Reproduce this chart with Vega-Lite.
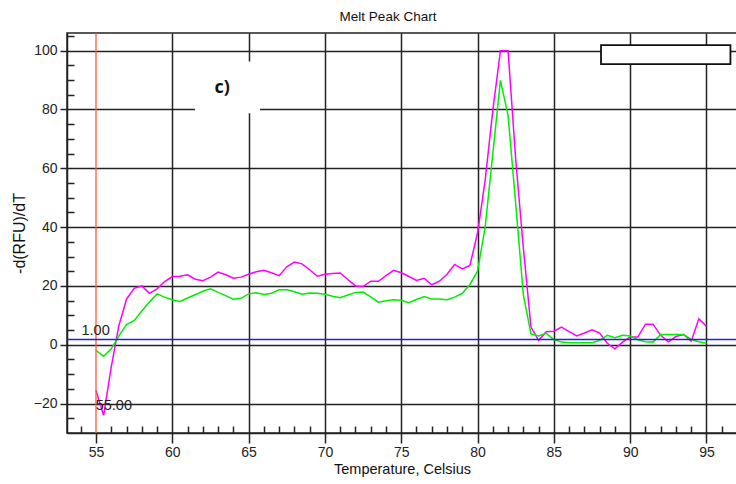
{
  "$schema": "https://vega.github.io/schema/vega-lite/v6.json",
  "width": 670,
  "height": 400,
  "autosize": {"type": "none"},
  "padding": {"left": 67, "top": 33, "right": 0, "bottom": 51},
  "background": "white",
  "title": {"text": "Melt Peak Chart", "font": "Liberation Sans", "fontSize": 13.5, "fontWeight": "normal", "color": "#111", "dx": -14, "offset": -5, "baseline": "bottom"},
  "config": {
    "view": {"stroke": "#222", "strokeWidth": 1.5},
    "axis": {"labelFont": "Liberation Sans", "labelFontSize": 14, "labelColor": "#222", "titleFont": "Liberation Sans", "titleFontSize": 14.5, "titleFontWeight": "normal", "titleColor": "#111", "domainColor": "#222", "domainWidth": 1.5, "tickColor": "#222", "tickWidth": 1.5, "gridColor": "#222", "gridWidth": 1.5, "gridOpacity": 1}
  },
  "datasets": {
    "melt": [
      {"T":55.0,"v":-15.5,"s":"A"},{"T":55.5,"v":-24,"s":"A"},{"T":56.0,"v":-7.5,"s":"A"},{"T":56.5,"v":6.5,"s":"A"},{"T":57.0,"v":15.5,"s":"A"},{"T":57.5,"v":19.2,"s":"A"},{"T":58.0,"v":20,"s":"A"},{"T":58.5,"v":17.5,"s":"A"},{"T":59.0,"v":19,"s":"A"},{"T":59.5,"v":21.5,"s":"A"},{"T":60.0,"v":23.2,"s":"A"},{"T":60.5,"v":23.3,"s":"A"},{"T":61.0,"v":23.8,"s":"A"},{"T":61.5,"v":22.3,"s":"A"},{"T":62.0,"v":21.8,"s":"A"},{"T":62.5,"v":23,"s":"A"},{"T":63.0,"v":24.7,"s":"A"},{"T":63.5,"v":23.8,"s":"A"},{"T":64.0,"v":22.6,"s":"A"},{"T":64.5,"v":23,"s":"A"},{"T":65.0,"v":24,"s":"A"},{"T":65.5,"v":24.8,"s":"A"},{"T":66.0,"v":25.3,"s":"A"},{"T":66.5,"v":24.5,"s":"A"},{"T":67.0,"v":23.5,"s":"A"},{"T":67.5,"v":26.5,"s":"A"},{"T":68.0,"v":28.1,"s":"A"},{"T":68.5,"v":27.5,"s":"A"},{"T":69.0,"v":25.5,"s":"A"},{"T":69.5,"v":23.3,"s":"A"},{"T":70.0,"v":24,"s":"A"},{"T":70.5,"v":24.2,"s":"A"},{"T":71.0,"v":24.4,"s":"A"},{"T":71.5,"v":22.2,"s":"A"},{"T":72.0,"v":20,"s":"A"},{"T":72.5,"v":19.8,"s":"A"},{"T":73.0,"v":21.6,"s":"A"},{"T":73.5,"v":21.6,"s":"A"},{"T":74.0,"v":23.5,"s":"A"},{"T":74.5,"v":25.3,"s":"A"},{"T":75.0,"v":24.5,"s":"A"},{"T":75.5,"v":23.2,"s":"A"},{"T":76.0,"v":21.9,"s":"A"},{"T":76.5,"v":22.6,"s":"A"},{"T":77.0,"v":20.4,"s":"A"},{"T":77.5,"v":21.6,"s":"A"},{"T":78.0,"v":24,"s":"A"},{"T":78.5,"v":27.3,"s":"A"},{"T":79.0,"v":25.8,"s":"A"},{"T":79.5,"v":27,"s":"A"},{"T":80.0,"v":38,"s":"A"},{"T":80.5,"v":56,"s":"A"},{"T":81.0,"v":79.7,"s":"A"},{"T":81.5,"v":100,"s":"A"},{"T":82.0,"v":100,"s":"A"},{"T":82.5,"v":63,"s":"A"},{"T":83.0,"v":33,"s":"A"},{"T":83.5,"v":6,"s":"A"},{"T":84.0,"v":1.5,"s":"A"},{"T":84.5,"v":4.4,"s":"A"},{"T":85.0,"v":4.6,"s":"A"},{"T":85.5,"v":6,"s":"A"},{"T":86.0,"v":4.5,"s":"A"},{"T":86.5,"v":3,"s":"A"},{"T":87.0,"v":4,"s":"A"},{"T":87.5,"v":5.1,"s":"A"},{"T":88.0,"v":4,"s":"A"},{"T":88.5,"v":0.5,"s":"A"},{"T":89.0,"v":-1.4,"s":"A"},{"T":89.5,"v":0.9,"s":"A"},{"T":90.0,"v":2.6,"s":"A"},{"T":90.5,"v":2.6,"s":"A"},{"T":91.0,"v":7,"s":"A"},{"T":91.5,"v":7,"s":"A"},{"T":92.0,"v":3.2,"s":"A"},{"T":92.5,"v":1,"s":"A"},{"T":93.0,"v":2.8,"s":"A"},{"T":93.5,"v":3.5,"s":"A"},{"T":94.0,"v":1.2,"s":"A"},{"T":94.5,"v":8.8,"s":"A"},{"T":95.0,"v":6.3,"s":"A"},
      {"T":55.0,"v":-1.9,"s":"B"},{"T":55.5,"v":-3.9,"s":"B"},{"T":56.0,"v":-1.4,"s":"B"},{"T":56.5,"v":3,"s":"B"},{"T":57.0,"v":6.9,"s":"B"},{"T":57.5,"v":8.2,"s":"B"},{"T":58.0,"v":11.5,"s":"B"},{"T":58.5,"v":14.5,"s":"B"},{"T":59.0,"v":17.3,"s":"B"},{"T":59.5,"v":16.2,"s":"B"},{"T":60.0,"v":15.2,"s":"B"},{"T":60.5,"v":14.7,"s":"B"},{"T":61.0,"v":15.9,"s":"B"},{"T":61.5,"v":17,"s":"B"},{"T":62.0,"v":18.2,"s":"B"},{"T":62.5,"v":19,"s":"B"},{"T":63.0,"v":17.8,"s":"B"},{"T":63.5,"v":16.7,"s":"B"},{"T":64.0,"v":15.5,"s":"B"},{"T":64.5,"v":15.8,"s":"B"},{"T":65.0,"v":17.3,"s":"B"},{"T":65.5,"v":17.7,"s":"B"},{"T":66.0,"v":17.1,"s":"B"},{"T":66.5,"v":17.5,"s":"B"},{"T":67.0,"v":18.7,"s":"B"},{"T":67.5,"v":18.7,"s":"B"},{"T":68.0,"v":18,"s":"B"},{"T":68.5,"v":17.2,"s":"B"},{"T":69.0,"v":17.6,"s":"B"},{"T":69.5,"v":17.5,"s":"B"},{"T":70.0,"v":17.2,"s":"B"},{"T":70.5,"v":16.5,"s":"B"},{"T":71.0,"v":16,"s":"B"},{"T":71.5,"v":16.9,"s":"B"},{"T":72.0,"v":17.8,"s":"B"},{"T":72.5,"v":17.9,"s":"B"},{"T":73.0,"v":16.3,"s":"B"},{"T":73.5,"v":14.5,"s":"B"},{"T":74.0,"v":15,"s":"B"},{"T":74.5,"v":15.3,"s":"B"},{"T":75.0,"v":15.1,"s":"B"},{"T":75.5,"v":14.3,"s":"B"},{"T":76.0,"v":15.4,"s":"B"},{"T":76.5,"v":16.4,"s":"B"},{"T":77.0,"v":15.6,"s":"B"},{"T":77.5,"v":15.6,"s":"B"},{"T":78.0,"v":15.3,"s":"B"},{"T":78.5,"v":16.2,"s":"B"},{"T":79.0,"v":17.5,"s":"B"},{"T":79.5,"v":20.5,"s":"B"},{"T":80.0,"v":25,"s":"B"},{"T":80.5,"v":40,"s":"B"},{"T":81.0,"v":65,"s":"B"},{"T":81.5,"v":89.9,"s":"B"},{"T":82.0,"v":78,"s":"B"},{"T":82.5,"v":48,"s":"B"},{"T":83.0,"v":17,"s":"B"},{"T":83.5,"v":3.7,"s":"B"},{"T":84.0,"v":3,"s":"B"},{"T":84.5,"v":3.9,"s":"B"},{"T":85.0,"v":1.8,"s":"B"},{"T":85.5,"v":0.9,"s":"B"},{"T":86.0,"v":0.7,"s":"B"},{"T":86.5,"v":0.7,"s":"B"},{"T":87.0,"v":0.7,"s":"B"},{"T":87.5,"v":0.7,"s":"B"},{"T":88.0,"v":1.5,"s":"B"},{"T":88.5,"v":3.2,"s":"B"},{"T":89.0,"v":2.4,"s":"B"},{"T":89.5,"v":3.2,"s":"B"},{"T":90.0,"v":3,"s":"B"},{"T":90.5,"v":1.7,"s":"B"},{"T":91.0,"v":1,"s":"B"},{"T":91.5,"v":0.9,"s":"B"},{"T":92.0,"v":3.5,"s":"B"},{"T":92.5,"v":3.5,"s":"B"},{"T":93.0,"v":3.5,"s":"B"},{"T":93.5,"v":3.5,"s":"B"},{"T":94.0,"v":1.8,"s":"B"},{"T":94.5,"v":1,"s":"B"},{"T":95.0,"v":0.5,"s":"B"}
    ],
    "labels": [
      {"T":54.05,"v":3.3,"label":"1.00"},
      {"T":54.98,"v":-22.2,"label":"55.00"}
    ],
    "boxes": [
      {"name":"tag","T1":61.49,"T2":65.75,"v1":96.3,"v2":78.7},
      {"name":"legend","T1":88.09,"T2":96.57,"v1":101.9,"v2":95.4}
    ],
    "tag": [{"T":63.26,"v":87.4,"label":"c)"}]
  },
  "layer": [
    {
      "data": {"name": "melt"},
      "mark": {"type": "line", "strokeWidth": 1.5, "clip": true},
      "encoding": {
        "x": {"field": "T", "type": "quantitative", "scale": {"domain": [53.1, 97], "nice": false, "zero": false},
              "axis": {"orient": "bottom", "values": [55,60,65,70,75,80,85,90,95], "grid": true, "gridOpacity": {"condition": {"test": "datum.value === 55", "value": 0}, "value": 1}, "tickSize": 10, "labelPadding": 2, "title": "Temperature, Celsius", "titlePadding": 3}},
        "y": {"field": "v", "type": "quantitative", "scale": {"domain": [-30, 106], "nice": false, "zero": false},
              "axis": {"orient": "left", "values": [-20,0,20,40,60,80,100], "grid": true, "tickSize": 7, "labelPadding": 3, "title": "-d(RFU)/dT", "titleFontSize": 16, "titlePadding": 6}},
        "color": {"field": "s", "type": "nominal", "scale": {"domain": ["A","B"], "range": ["#FF00FF", "#00EE00"]}, "legend": null}
      }
    },
    {
      "data": {"values": [{"T": 55}]},
      "mark": {"type": "rule", "color": "#FF5A3C", "strokeWidth": 1.3},
      "encoding": {
        "x": {"field": "T", "type": "quantitative",
              "axis": {"orient": "bottom", "values": [54,56,57,58,59,61,62,63,64,66,67,68,69,71,72,73,74,76,77,78,79,81,82,83,84,86,87,88,89,91,92,93,94,96], "tickSize": -7, "labels": false, "grid": false, "domain": false, "title": null}}
      }
    },
    {
      "data": {"values": [{"v": 1.8}]},
      "mark": {"type": "rule", "color": "#2020E0", "strokeWidth": 1.5},
      "encoding": {
        "y": {"field": "v", "type": "quantitative",
              "axis": {"orient": "left", "values": [-25,-15,-10,-5,5,10,15,25,30,35,45,50,55,65,70,75,85,90,95,105], "tickSize": -7, "labels": false, "grid": false, "domain": false, "title": null}}
      }
    },
    {
      "data": {"name": "boxes"},
      "mark": {"type": "rect", "fill": "white"},
      "encoding": {
        "x": {"field": "T1", "type": "quantitative", "axis": null},
        "x2": {"field": "T2"},
        "y": {"field": "v1", "type": "quantitative", "axis": null},
        "y2": {"field": "v2"},
        "stroke": {"condition": {"test": "datum.name === 'legend'", "value": "#111"}, "value": null},
        "strokeWidth": {"value": 1.8}
      }
    },
    {
      "data": {"name": "labels"},
      "mark": {"type": "text", "font": "Liberation Sans", "fontSize": 14.5, "color": "#222", "align": "left", "baseline": "alphabetic"},
      "encoding": {
        "x": {"field": "T", "type": "quantitative", "axis": null},
        "y": {"field": "v", "type": "quantitative", "axis": null},
        "text": {"field": "label"}
      }
    },
    {
      "data": {"name": "tag"},
      "mark": {"type": "text", "font": "Open Sans", "fontSize": 18, "fontWeight": "bold", "color": "#111", "align": "center", "baseline": "middle"},
      "encoding": {
        "x": {"field": "T", "type": "quantitative", "axis": null},
        "y": {"field": "v", "type": "quantitative", "axis": null},
        "text": {"field": "label"}
      }
    }
  ],
  "resolve": {"axis": {"x": "independent", "y": "independent"}}
}
